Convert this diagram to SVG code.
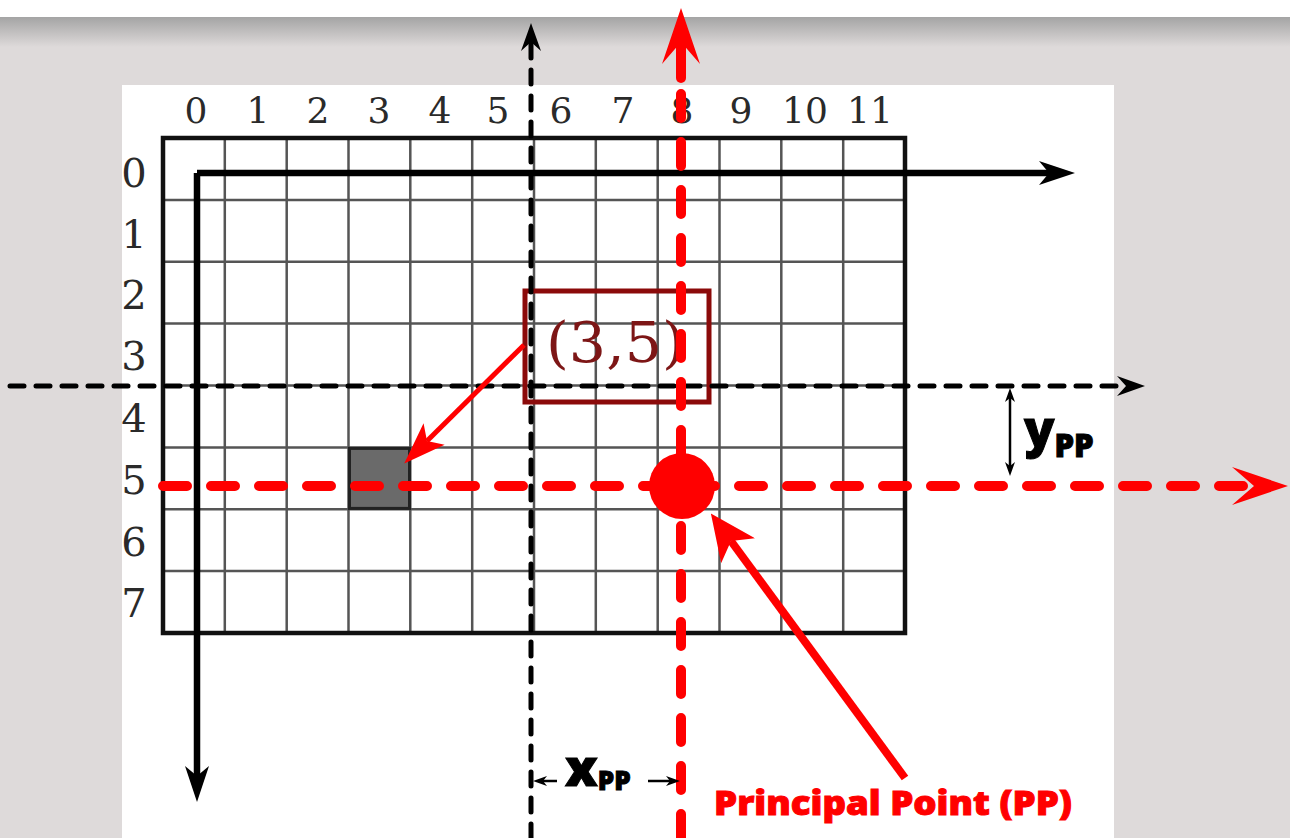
<svg xmlns="http://www.w3.org/2000/svg" width="1290" height="838" viewBox="0 0 1290 838">
<style>
.grid{stroke:#555;stroke-width:2.5;fill:none}
.frame{stroke:#111;stroke-width:4.5;fill:none}
.collab{font-family:"DejaVu Serif","Liberation Serif",serif;font-size:36px;fill:#2a2a2a;text-anchor:middle}
.rowlab{font-family:"DejaVu Serif","Liberation Serif",serif;font-size:40px;fill:#2a2a2a;text-anchor:middle}
.axis{stroke:#000;stroke-width:6.5;fill:none}
.bdash{stroke:#000;stroke-width:5;stroke-dasharray:14 12;stroke-linecap:round;fill:none}
.rdash{stroke:#f00;stroke-width:10;stroke-dasharray:24 24;stroke-linecap:round;fill:none}
.sans{font-family:"Open Sans","Noto Sans","Liberation Sans",sans-serif;font-weight:800}
</style>
<defs>
<linearGradient id="hdr" x1="0" y1="0" x2="0" y2="1">
<stop offset="0" stop-color="#a4a4a4"/>
<stop offset="1" stop-color="#dedada"/>
</linearGradient>
<marker id="mkAxis" markerUnits="userSpaceOnUse" viewBox="0 0 36 24" markerWidth="36" markerHeight="24" refX="10" refY="12" orient="auto"><path d="M0,0 L36,12 L0,24 L10,12 z" fill="#000"/></marker>
<marker id="mkBDash" markerUnits="userSpaceOnUse" viewBox="0 0 28 20" markerWidth="28" markerHeight="20" refX="9" refY="10" orient="auto"><path d="M0,0 L28,10 L0,20 L9,10 z" fill="#000"/></marker>
<marker id="mkRBig" markerUnits="userSpaceOnUse" viewBox="0 0 56 38" markerWidth="56" markerHeight="38" refX="22" refY="19" orient="auto"><path d="M0,0 L56,19 L0,38 L22,19 z" fill="#f00"/></marker>
<marker id="mkRed" markerUnits="userSpaceOnUse" viewBox="0 0 42 30" markerWidth="42" markerHeight="30" refX="10" refY="15" orient="auto"><path d="M0,0 L42,15 L0,30 L10,15 z" fill="#f00"/></marker>
<marker id="mkRedPP" markerUnits="userSpaceOnUse" viewBox="0 0 46 42" markerWidth="46" markerHeight="42" refX="12" refY="21" orient="auto"><path d="M0,0 L46,21 L0,42 L12,21 z" fill="#f00"/></marker>
<marker id="mkSmall" markerUnits="userSpaceOnUse" viewBox="0 0 14 10" markerWidth="14" markerHeight="10" refX="4" refY="5" orient="auto-start-reverse"><path d="M0,0 L14,5 L0,10 L4,5 z" fill="#000"/></marker>
</defs>

<rect width="1290" height="838" fill="#dedada"/>
<rect width="1290" height="17" fill="#ffffff"/>
<rect y="17" width="1290" height="30" fill="url(#hdr)"/>
<rect x="122" y="85" width="992" height="753" fill="#ffffff"/>

<g id="grid">
<path class="grid" d="M224.8,138V633M286.7,138V633M348.5,138V633M410.3,138V633M472.2,138V633M534,138V633M595.8,138V633M657.7,138V633M719.5,138V633M781.3,138V633M843.2,138V633"/>
<path class="grid" d="M163,199.9H905M163,261.8H905M163,323.6H905M163,385.5H905M163,447.4H905M163,509.3H905M163,571.1H905"/>
<rect id="pixel-3-5" x="349.5" y="448.4" width="60" height="60" fill="#6a6a6a" stroke="#222" stroke-width="3"/>
<rect class="frame" x="163" y="138" width="742" height="495"/>
</g>

<g id="column-labels">
<text class="collab" x="196" y="123">0</text>
<text class="collab" x="258" y="123">1</text>
<text class="collab" x="318" y="123">2</text>
<text class="collab" x="379" y="123">3</text>
<text class="collab" x="440" y="123">4</text>
<text class="collab" x="498" y="123">5</text>
<text class="collab" x="561" y="123">6</text>
<text class="collab" x="623" y="123">7</text>
<text class="collab" x="682" y="123">8</text>
<text class="collab" x="741" y="123">9</text>
<text class="collab" x="805" y="123">10</text>
<text class="collab" x="870" y="123">11</text>
</g>
<g id="row-labels">
<text class="rowlab" x="134" y="187">0</text>
<text class="rowlab" x="134" y="248">1</text>
<text class="rowlab" x="134" y="309">2</text>
<text class="rowlab" x="134" y="370">3</text>
<text class="rowlab" x="134" y="432">4</text>
<text class="rowlab" x="134" y="494">5</text>
<text class="rowlab" x="134" y="556">6</text>
<text class="rowlab" x="134" y="617">7</text>
</g>

<g id="label-3-5">
<rect x="525" y="291" width="184" height="111" fill="none" stroke="#8b0a0a" stroke-width="5"/>
<text x="546" y="362" font-family="'DejaVu Serif','Liberation Serif',serif" font-size="56" fill="#7d1616" textLength="139" lengthAdjust="spacingAndGlyphs">(3,5)</text>
</g>

<g id="connectors">
<path class="axis" d="M197,173H1049" marker-end="url(#mkAxis)"/>
<path class="axis" d="M197,173V776" marker-end="url(#mkAxis)"/>
<path class="bdash" d="M10,386H1126" marker-end="url(#mkBDash)"/>
<path class="bdash" d="M531,838V42" marker-end="url(#mkBDash)"/>
<path class="rdash" d="M163,486H1254" marker-end="url(#mkRBig)"/>
<path class="rdash" d="M681,838V76"/>
<path d="M681,78V42" stroke="#f00" stroke-width="10" stroke-linecap="round" marker-end="url(#mkRBig)"/>
<path d="M524,345L427,441" stroke="#f00" stroke-width="5" fill="none" marker-end="url(#mkRed)"/>
<path d="M905,778L731,541" stroke="#f00" stroke-width="8" fill="none" marker-end="url(#mkRedPP)"/>
<path d="M1010,398V466" stroke="#000" stroke-width="2.5" marker-start="url(#mkSmall)" marker-end="url(#mkSmall)"/>
<path d="M557,781H543" stroke="#000" stroke-width="2.5" marker-end="url(#mkSmall)"/>
<path d="M648,781H670" stroke="#000" stroke-width="2.5" marker-end="url(#mkSmall)"/>
</g>

<g id="principal-point">
<circle cx="682" cy="486" r="33" fill="#f00"/>
<text class="sans" x="714" y="815" font-size="34" fill="#f00" stroke="#f00" stroke-width="1" textLength="358" lengthAdjust="spacingAndGlyphs">Principal Point (PP)</text>
</g>

<g id="y-pp">
<text class="sans" x="1024" y="447" font-size="50" fill="#000" stroke="#000" stroke-width="1">y<tspan font-size="31" dy="10">PP</tspan></text>
</g>
<g id="x-pp">
<text class="sans" x="565" y="786" font-size="52" fill="#000" stroke="#000" stroke-width="1">x<tspan font-size="26" dy="4">PP</tspan></text>
</g>
</svg>
